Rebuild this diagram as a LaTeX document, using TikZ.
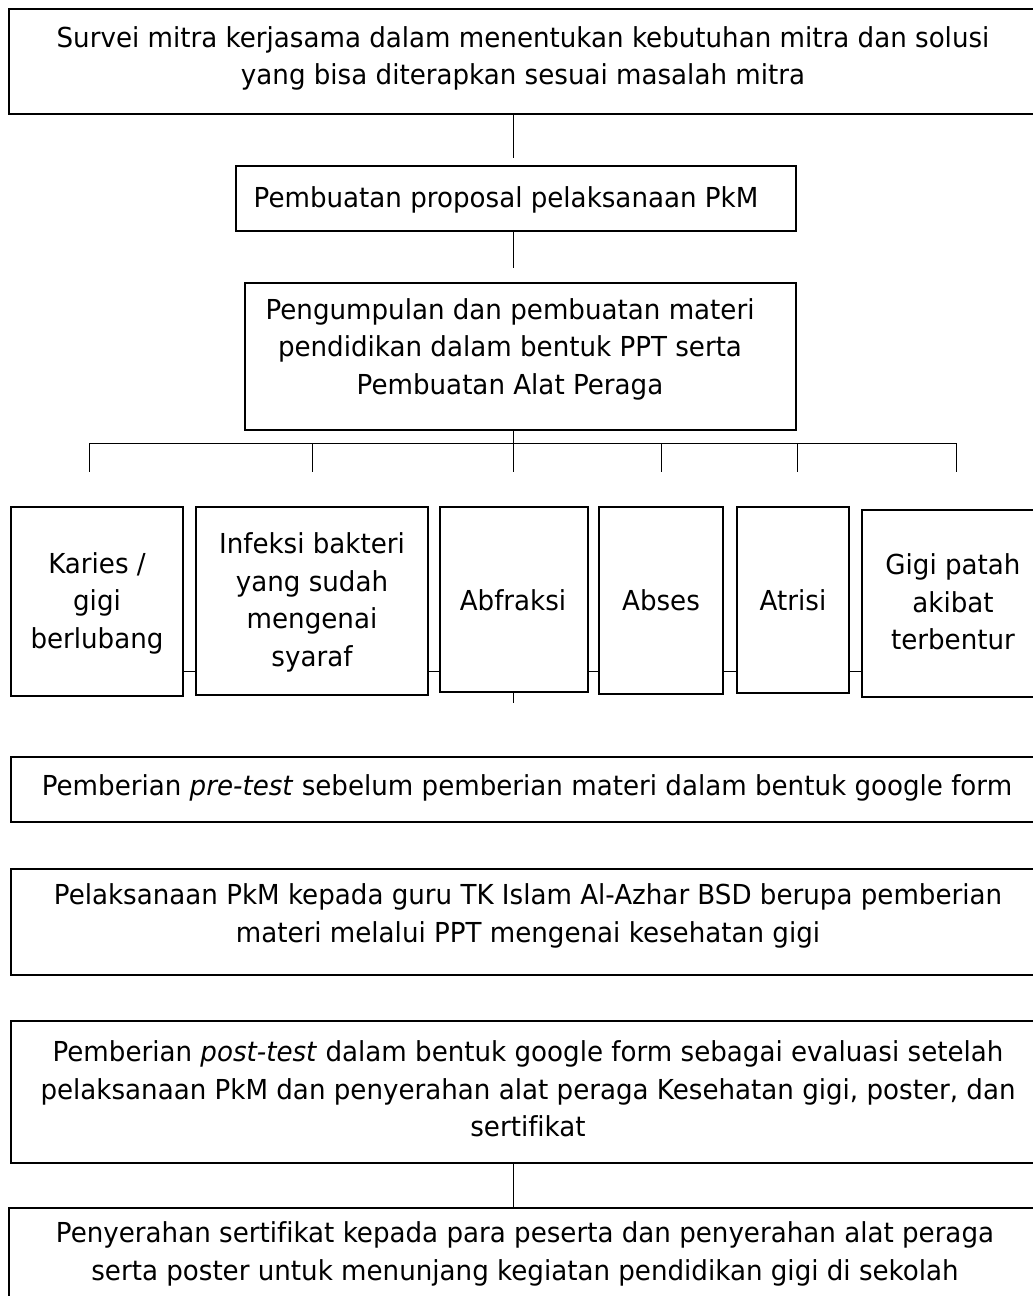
\documentclass[tikz,border=0pt]{standalone}
\usepackage{fontspec}
\setmainfont{DejaVu Sans}[FakeStretch=0.95, Ligatures=CommonOff]
\begin{document}
\begin{tikzpicture}[x=1pt,y=-1pt,
  box/.style={draw, line width=1.6pt, rectangle, inner sep=0pt, outer sep=0pt},
  txt/.style={align=center, inner sep=0pt, font=\fontsize{27.5}{37.5}\selectfont},
  conn/.style={line width=0.9pt}]
\useasboundingbox (0,0) rectangle (1033,1296);
% boxes
\node[box, minimum width=1028pt, minimum height=105pt] (b1) at (523,61.5) {};
\node[box, minimum width=560pt, minimum height=65pt] (b2) at (516,198.5) {};
\node[box, minimum width=551pt, minimum height=147pt] (b3) at (520.5,356.5) {};
\node[box, minimum width=172pt, minimum height=189pt] (s1) at (97,601.5) {};
\node[box, minimum width=232pt, minimum height=188pt] (s2) at (312,601) {};
\node[box, minimum width=148pt, minimum height=185pt] (s3) at (514,599.5) {};
\node[box, minimum width=124pt, minimum height=187pt] (s4) at (661,600.5) {};
\node[box, minimum width=112pt, minimum height=186pt] (s5) at (793,600) {};
\node[box, minimum width=182pt, minimum height=187pt] (s6) at (953,603.5) {};
\node[box, minimum width=1032pt, minimum height=65pt] (b4) at (527,789.5) {};
\node[box, minimum width=1032pt, minimum height=106pt] (b5) at (527,922) {};
\node[box, minimum width=1032pt, minimum height=142pt] (b6) at (527,1092) {};
\node[box, minimum width=1034pt, minimum height=112pt] (b7) at (526,1264) {};
% texts
\node[txt] (t1) at (523,58.5) {Survei mitra kerjasama dalam menentukan kebutuhan mitra dan solusi\\yang bisa diterapkan sesuai masalah mitra};
\node[txt] (t2) at (506,199.5) {Pembuatan proposal pelaksanaan PkM};
\node[txt] (t3) at (510,349) {Pengumpulan dan pembuatan materi\\pendidikan dalam bentuk PPT serta\\Pembuatan Alat Peraga};
\node[txt] (u1) at (97,603) {Karies /\\gigi\\berlubang};
\node[txt] (u2) at (312,602.5) {Infeksi bakteri\\yang sudah\\mengenai\\syaraf};
\node[txt] (u3) at (513,600) {Abfraksi};
\node[txt] (u4) at (661,600) {Abses};
\node[txt] (u5) at (793,600) {Atrisi};
\node[txt] (u6) at (953,602) {Gigi patah\\akibat\\terbentur};
\node[txt] (t4) at (527,787.5) {Pemberian \textit{pre-test} sebelum pemberian materi dalam bentuk google form};
\node[txt] (t5) at (528,916) {Pelaksanaan PkM kepada guru TK Islam Al-Azhar BSD berupa pemberian\\materi melalui PPT mengenai kesehatan gigi};
\node[txt] (t6) at (528,1089) {Pemberian \textit{post-test} dalam bentuk google form sebagai evaluasi setelah\\pelaksanaan PkM dan penyerahan alat peraga Kesehatan gigi, poster, dan\\sertifikat};
\node[txt] (t7) at (525,1254) {Penyerahan sertifikat kepada para peserta dan penyerahan alat peraga\\serta poster untuk menunjang kegiatan pendidikan gigi di sekolah};
% helper coordinates
\coordinate (cx) at (513,0);
\coordinate (bus) at (0,443);
\coordinate (lvl) at (0,671);
\coordinate (k1) at (89,472);
\coordinate (k2) at (312,472);
\coordinate (k3) at (513,472);
\coordinate (k4) at (661,472);
\coordinate (k5) at (797,472);
\coordinate (k6) at (956,472);
% connectors
\draw[conn] (b1.south -| cx) -- ([yshift=8pt]b2.north -| cx);
\draw[conn] (b2.south -| cx) -- ([yshift=15pt]b3.north -| cx);
\draw[conn] (b3.south -| cx) -- (bus -| cx);
\draw[conn] (bus -| k1) -- (bus -| k6);
\foreach \k in {k1,k2,k3,k4,k5,k6} \draw[conn] (bus -| \k) -- (\k);
\draw[conn] (s1.east |- lvl) -- (s2.west |- lvl);
\draw[conn] (s2.east |- lvl) -- (s3.west |- lvl);
\draw[conn] (s3.east |- lvl) -- (s4.west |- lvl);
\draw[conn] (s4.east |- lvl) -- (s5.west |- lvl);
\draw[conn] (s5.east |- lvl) -- (s6.west |- lvl);
\draw[conn] (s3.south -| cx) -- ++(0,11);
\draw[conn] (b6.south -| cx) -- (b7.north -| cx);
\end{tikzpicture}
\end{document}
